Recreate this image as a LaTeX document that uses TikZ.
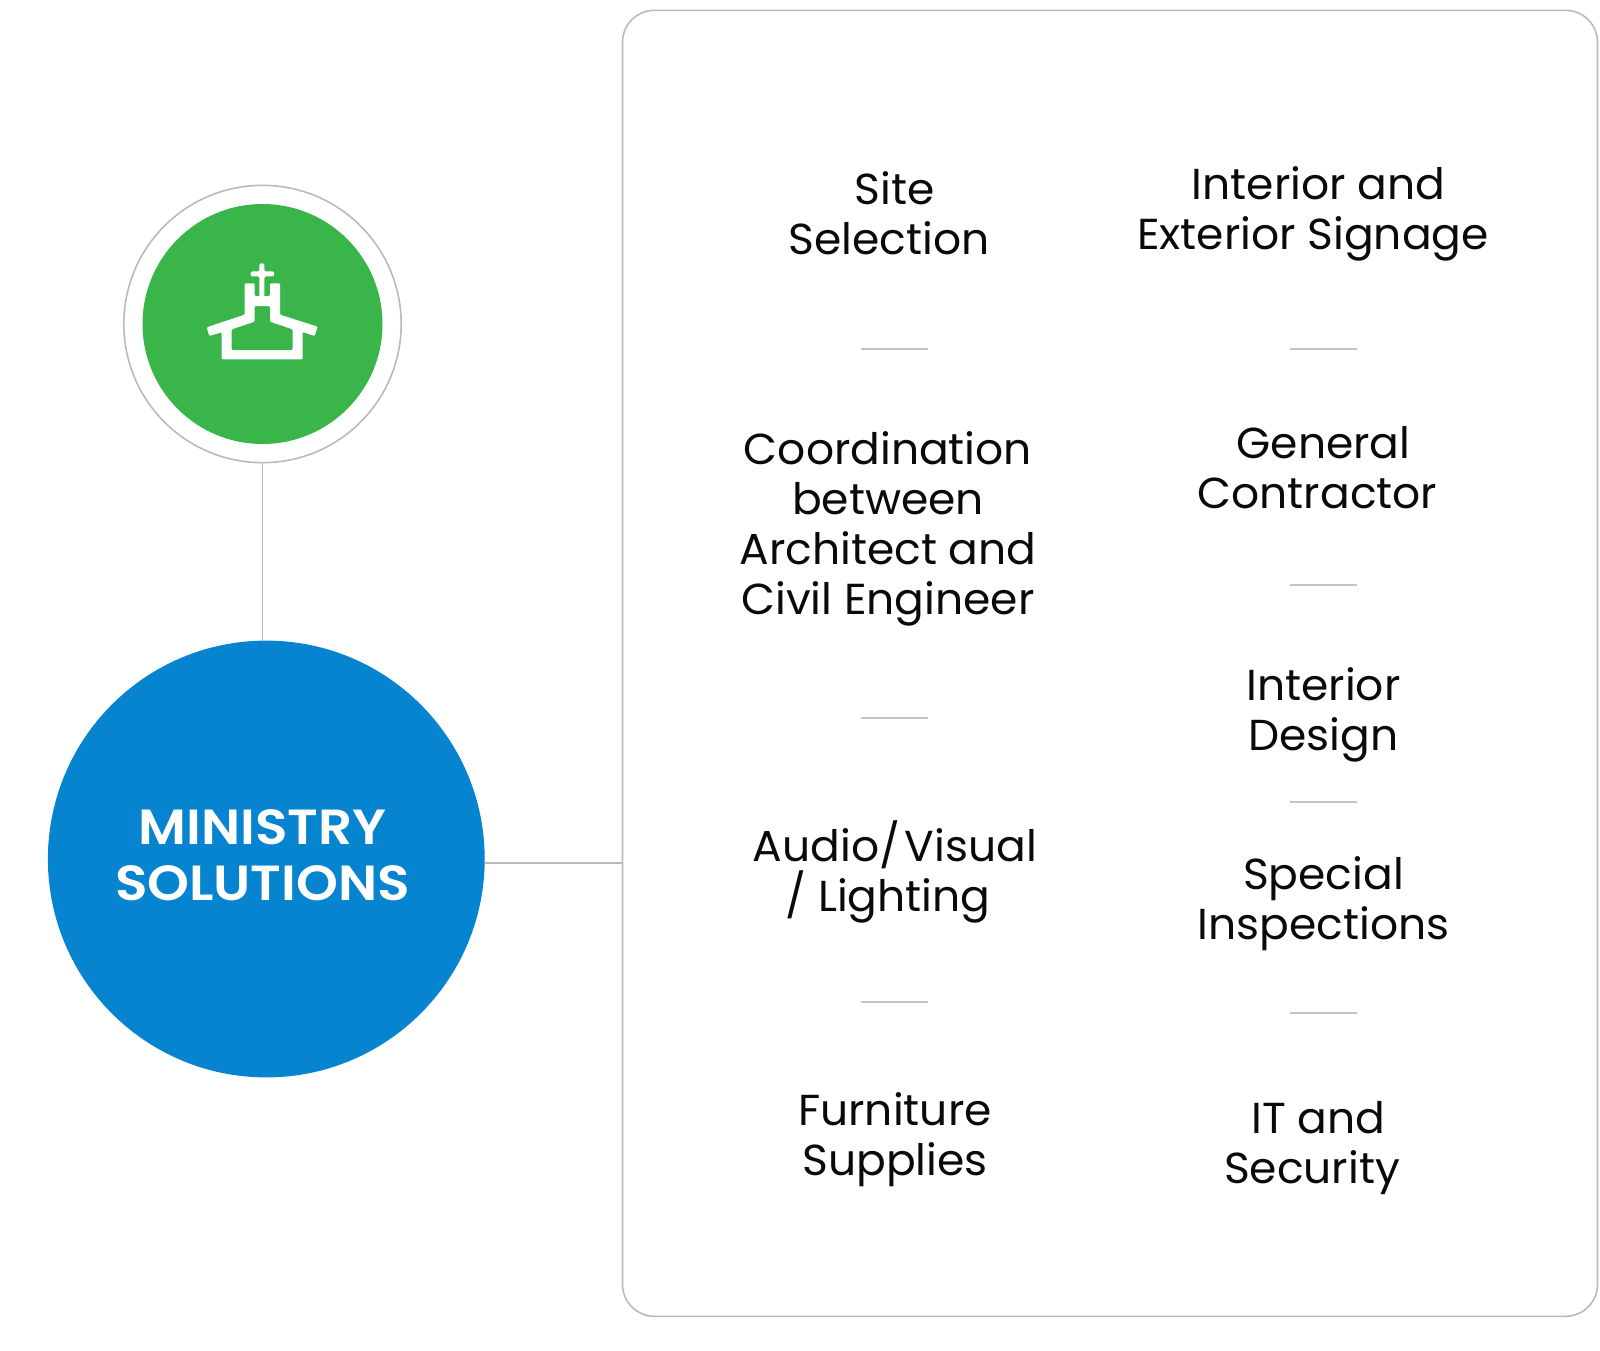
\documentclass[tikz,border=0pt]{standalone}
\usepackage{fontspec}
\setmainfont[FakeStretch=1.015]{Poppins}
\newfontfamily\headfont[FakeStretch=1.08]{Poppins SemiBold}
\definecolor{linegray}{HTML}{BABABA}
\definecolor{sepgray}{HTML}{C4C4C4}
\definecolor{churchgreen}{HTML}{3AB54A}
\definecolor{minblue}{HTML}{0784D0}
\definecolor{txt}{HTML}{0A0A0A}
\tikzset{
 itemtext/.style={align=center,text=txt,font=\fontsize{32.5}{37.5}\selectfont,inner sep=0pt},
 sep/.style={draw=sepgray,line width=1.1pt},
 conn/.style={draw=linegray,line width=1.2pt}
}
\begin{document}
\begin{tikzpicture}[x=0.75pt,y=-0.75pt]
\useasboundingbox (0,0) rectangle (1600,1350);
\fill[white] (0,0) rectangle (1600,1350);
\node[draw=linegray,line width=1.2pt,fill=white,rounded corners=24pt,minimum width=731.25pt,minimum height=979.5pt,inner sep=0pt,anchor=north west] (card) at (621.7,9.5) {};
\node[circle,conn,fill=white,minimum size=208pt,inner sep=0pt] (ring) at (262.5,324) {};
\node[circle,fill=churchgreen,minimum size=180pt,inner sep=0pt] (green) at (262.5,324) {};
\node[circle,fill=minblue,minimum size=327.6pt,inner sep=0pt] (blue) at (266.3,859) {};
\node[text=white,align=center,inner sep=0pt,font=\headfont\fontsize{37}{42}\selectfont] (bluet) at (262.5,855) {MINISTRY\\SOLUTIONS};
\draw[conn] (ring.south) -- (ring.south |- blue.north);
\coordinate (bj) at (blue.east |- 0,863);
\draw[conn] (bj) -- (bj -| card.west);
% church icon
\begin{scope}[shift={(180,240)},x=0.25pt,y=-0.25pt]
\fill[white,even odd rule,rounded corners=0.8pt]
 (194,224) -- (194,130) -- (224,130) -- (224,168) -- (270,168) -- (270,130) -- (300,130) -- (300,224)
 -- (413,260) -- (404,288) -- (368,276) -- (368,358) -- (125,358) -- (125,277) -- (88,288) -- (80,262) -- cycle
 (224,198) -- (270,198) -- (270,245) -- (338,268) -- (338,330) -- (155,330) -- (155,268) -- (224,245) -- cycle;
\fill[white,rounded corners=1pt] (238,70) -- (253,70) -- (253,94) -- (282,94) -- (282,109) -- (253,109) -- (253,170) -- (238,170) -- (238,109) -- (212,109) -- (212,94) -- (238,94) -- cycle;
\end{scope}
\node[itemtext] (a1) at (888.8,213) {\hspace*{9pt}Site\\Selection};
\node[itemtext] (a2) at (888,528.5) {Coordination\\between\\Architect and\\Civil Engineer};
\node[itemtext] (a3) at (888,872) {\hspace*{10.5pt}Audio/\hspace{3.5pt}Visual\\/ Lighting};
\node[itemtext] (a4) at (895,1140) {Furniture\\Supplies};
\node[itemtext] (b1) at (1313,214) {\hspace*{8.5pt}Interior and\\Exterior Signage};
\node[itemtext] (b2) at (1317.5,468) {\hspace*{9pt}General\\Contractor};
\node[itemtext] (b3) at (1323.5,715) {Interior\\Design};
\node[itemtext] (b4) at (1323.5,904) {Special\\Inspections};
\node[itemtext] (b5) at (1312,1148) {\hspace*{9.5pt}IT and\\Security};
\draw[sep] (861,349) -- (928,349);
\draw[sep] (861,718) -- (928,718);
\draw[sep] (861,1002) -- (928,1002);
\draw[sep] (1290,349) -- (1357,349);
\draw[sep] (1290,585) -- (1357,585);
\draw[sep] (1290,802) -- (1357,802);
\draw[sep] (1290,1013) -- (1357,1013);
\end{tikzpicture}
\end{document}
